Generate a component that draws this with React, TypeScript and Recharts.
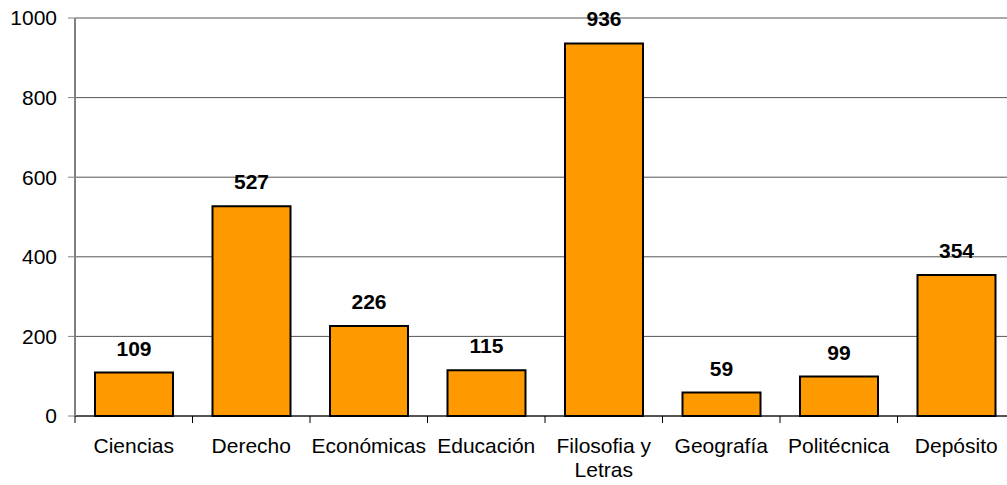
import { BarChart, Bar, XAxis, YAxis, CartesianGrid, LabelList, Text } from "recharts"

const CATEGORIES = [
  "Ciencias",
  "Derecho",
  "Económicas",
  "Educación",
  "Filosofia y Letras",
  "Geografía",
  "Politécnica",
  "Depósito",
]
const VALUES = [109, 527, 226, 115, 936, 59, 99, 354]
const Y_TICKS = [0, 200, 400, 600, 800, 1000]

const data = CATEGORIES.map((name, i) => ({ name, value: VALUES[i] }))

const CHART_W = 1015
const CHART_H = 485
const Y_AXIS_W = 75
const BAND = (CHART_W - Y_AXIS_W) / CATEGORIES.length
const X_TICK_SIZE = 7
const X_TICK_MARGIN = 15
const FONT = "'Liberation Sans', Arial, sans-serif"

// category label plus a tick mark on the left boundary of each category
const CategoryTick = (props: any) => {
  const { x, y, payload } = props
  const axisY = y - X_TICK_SIZE - X_TICK_MARGIN
  const left = x - BAND / 2
  return (
    <g>
      <line x1={left} y1={axisY} x2={left} y2={axisY + X_TICK_SIZE} stroke="#000" />
      <Text
        x={x}
        y={y}
        width={BAND}
        textAnchor="middle"
        verticalAnchor="start"
        lineHeight={24}
        fontSize={21}
        fontFamily={FONT}
        style={{ fontSize: 21, fontFamily: FONT }}
        fill="#000"
      >
        {payload.value}
      </Text>
    </g>
  )
}

export default function App() {
  return (
    <div style={{ position: "fixed", left: 0, top: 0, width: 1007, height: 485, overflow: "hidden", background: "#fff" }}>
      <BarChart
        width={CHART_W}
        height={CHART_H}
        data={data}
        margin={{ top: 18, right: 0, left: 0, bottom: 0 }}
        barCategoryGap={20}
        style={{ fontFamily: FONT }}
      >
        <CartesianGrid vertical={false} stroke="#555" />
        <XAxis
          dataKey="name"
          interval={0}
          height={69}
          tickSize={X_TICK_SIZE}
          tickMargin={X_TICK_MARGIN}
          tickLine={false}
          axisLine={{ stroke: "#000" }}
          tick={<CategoryTick />}
        />
        <YAxis
          width={Y_AXIS_W}
          domain={[0, 1000]}
          ticks={Y_TICKS}
          interval={0}
          tickSize={7}
          tickMargin={11}
          axisLine={{ stroke: "#808080", strokeWidth: 2 }}
          tickLine={{ stroke: "#808080" }}
          tick={{ fill: "#000", fontSize: 21, fontFamily: FONT }}
        />
        <Bar dataKey="value" fill="#FF9900" stroke="#000" strokeWidth={2} isAnimationActive={false}>
          <LabelList
            dataKey="value"
            position="top"
            offset={17}
            fill="#000"
            fontSize={21}
            fontWeight="bold"
            fontFamily={FONT}
          />
        </Bar>
      </BarChart>
    </div>
  )
}
